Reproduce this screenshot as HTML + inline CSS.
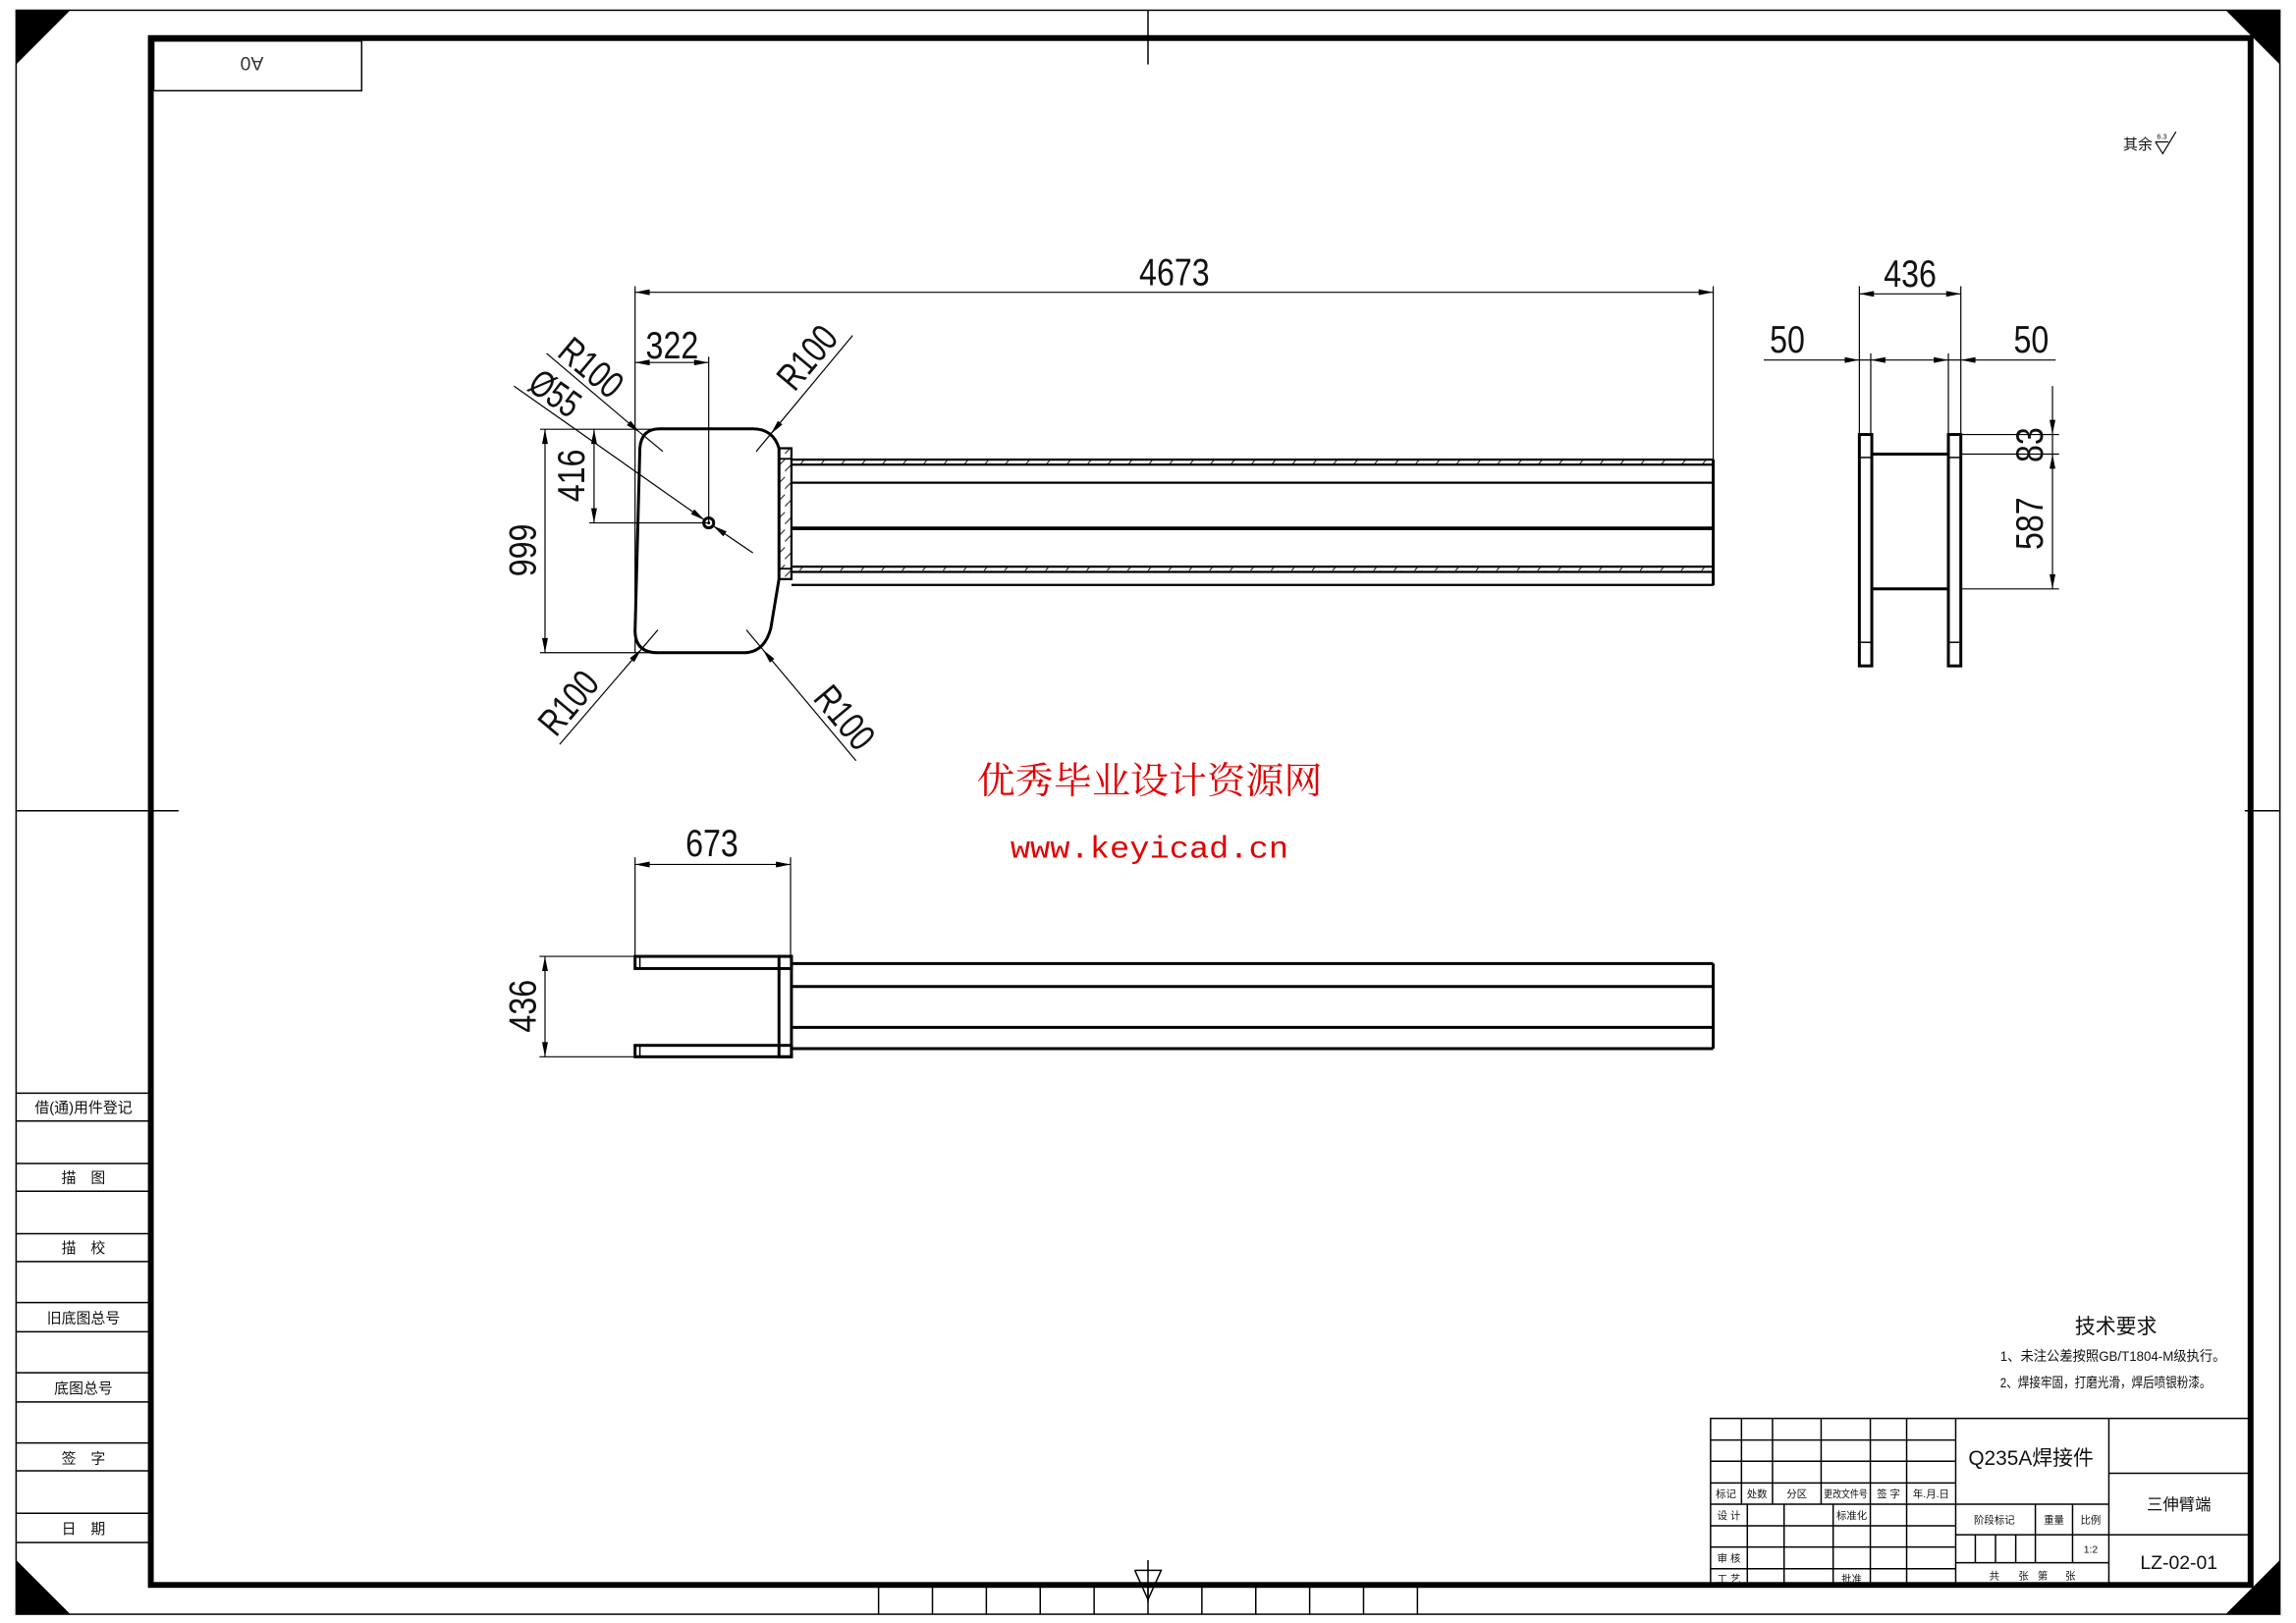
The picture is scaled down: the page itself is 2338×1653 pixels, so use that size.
<!DOCTYPE html>
<html><head><meta charset="utf-8"><style>html,body{margin:0;padding:0;background:#fff}svg{display:block}text{font-family:"Liberation Sans","Noto Sans CJK SC",sans-serif;fill:#111}.d{font-size:26px;fill:#3a3a3a}.s{font-size:7px}.m{font-size:10px}</style></head><body>
<svg width="2338" height="1653" viewBox="0 0 1568 1109" preserveAspectRatio="none" xmlns="http://www.w3.org/2000/svg">
<defs>
<marker id="a" viewBox="0 0 10 4" markerWidth="11" markerHeight="4" refX="10" refY="2" orient="auto-start-reverse" markerUnits="userSpaceOnUse"><path d="M0,0L10,2L0,4z" fill="#000"/></marker>
<pattern id="h" width="14" height="6" patternUnits="userSpaceOnUse"><line x1="0" y1="6" x2="5" y2="0" stroke="#000" stroke-width="0.6"/></pattern>
<pattern id="hv" width="8" height="12" patternUnits="userSpaceOnUse"><line x1="0" y1="10" x2="8" y2="2" stroke="#000" stroke-width="0.6"/></pattern>
</defs>
<rect width="1568" height="1109" fill="#fff"/>
<rect x="11" y="7" width="1546" height="1096" fill="none" stroke="#000" stroke-width="1"/>
<rect x="103" y="26" width="1434" height="1057" fill="none" stroke="#000" stroke-width="4"/>
<polygon points="11,7 48,7 11,44" fill="#000"/>
<polygon points="1520,7 1557,7 1557,44" fill="#000"/>
<polygon points="1557,1066 1557,1103 1520,1103" fill="#000"/>
<polygon points="11,1066 11,1103 48,1103" fill="#000"/>
<g stroke="#000" stroke-width="1">
<line x1="784" y1="7" x2="784" y2="44"/>
<line x1="11" y1="554" x2="122" y2="554"/>
<line x1="1533" y1="554" x2="1557" y2="554"/>
<line x1="784" y1="1066" x2="784" y2="1095"/>
<polyline points="775,1073 793,1073 784,1093 775,1073" fill="none"/>
</g>
<g stroke="#000" stroke-width="1">
<line x1="600" y1="1083" x2="600" y2="1103"/><line x1="636.8" y1="1083" x2="636.8" y2="1103"/><line x1="673.6" y1="1083" x2="673.6" y2="1103"/><line x1="710.4" y1="1083" x2="710.4" y2="1103"/><line x1="747.2" y1="1083" x2="747.2" y2="1103"/><line x1="784" y1="1083" x2="784" y2="1103"/><line x1="820.8" y1="1083" x2="820.8" y2="1103"/><line x1="857.6" y1="1083" x2="857.6" y2="1103"/><line x1="894.4" y1="1083" x2="894.4" y2="1103"/><line x1="931.2" y1="1083" x2="931.2" y2="1103"/><line x1="968" y1="1083" x2="968" y2="1103"/>
</g>
<rect x="105" y="28" width="142" height="34" fill="none" stroke="#000" stroke-width="1"/>
<text x="172" y="44" font-size="13" text-anchor="middle" transform="rotate(180 172 44)" dy="5" style="fill:#333">A0</text>
<g stroke="#000" stroke-width="1">
<line x1="11" y1="747" x2="103" y2="747"/><line x1="11" y1="766" x2="103" y2="766"/>
<line x1="11" y1="795" x2="103" y2="795"/><line x1="11" y1="814" x2="103" y2="814"/>
<line x1="11" y1="843" x2="103" y2="843"/><line x1="11" y1="862" x2="103" y2="862"/>
<line x1="11" y1="890" x2="103" y2="890"/><line x1="11" y1="910" x2="103" y2="910"/>
<line x1="11" y1="938" x2="103" y2="938"/><line x1="11" y1="958" x2="103" y2="958"/>
<line x1="11" y1="986" x2="103" y2="986"/><line x1="11" y1="1005" x2="103" y2="1005"/>
<line x1="11" y1="1034" x2="103" y2="1034"/><line x1="11" y1="1054" x2="103" y2="1054"/>
</g>
<g class="m" text-anchor="middle" font-size="10">
<text x="57" y="760">借(通)用件登记</text>
<text x="57" y="808">描　图</text>
<text x="57" y="856">描　校</text>
<text x="57" y="904">旧底图总号</text>
<text x="57" y="952">底图总号</text>
<text x="57" y="1000">签　字</text>
<text x="57" y="1048">日　期</text>
</g>
<text x="1450" y="102" font-size="10">其余</text>
<text x="1473" y="95" font-size="5">6.3</text>
<polyline points="1472,97 1481,97" stroke="#000" stroke-width="0.8" fill="none"/>
<polyline points="1472,97 1477,105 1486,90" stroke="#000" stroke-width="0.8" fill="none"/>
<g stroke="#000" stroke-width="0.8" fill="none">
<line x1="433.7" y1="195.6" x2="433.7" y2="446"/>
<line x1="1170" y1="195.6" x2="1170" y2="314"/>
<line x1="433.7" y1="199.7" x2="1170" y2="199.7" marker-start="url(#a)" marker-end="url(#a)"/>
<line x1="484" y1="243.7" x2="484" y2="357"/>
<line x1="433.7" y1="247.7" x2="484" y2="247.7" marker-start="url(#a)" marker-end="url(#a)"/>
<line x1="368.8" y1="293.3" x2="450" y2="293.3"/>
<line x1="402.4" y1="357.3" x2="484" y2="357.3"/>
<line x1="368.8" y1="446" x2="449" y2="446"/>
<line x1="405.7" y1="293.3" x2="405.7" y2="357.3" marker-start="url(#a)" marker-end="url(#a)"/>
<line x1="372.2" y1="293.3" x2="372.2" y2="446" marker-start="url(#a)" marker-end="url(#a)"/>
<line x1="351" y1="263.8" x2="481.2" y2="355.4" marker-end="url(#a)"/>
<line x1="514.2" y1="377.8" x2="486.8" y2="359.2" marker-end="url(#a)"/>
<line x1="373.3" y1="241.5" x2="437" y2="295.5" marker-end="url(#a)"/><line x1="437" y1="295.5" x2="452.7" y2="308.5"/>
<line x1="582.3" y1="229.2" x2="526.4" y2="296.5" marker-end="url(#a)"/><line x1="526.4" y1="296.5" x2="516.4" y2="308.5"/>
<line x1="382.2" y1="508.6" x2="438.1" y2="443.5" marker-end="url(#a)"/><line x1="438.1" y1="443.5" x2="449.3" y2="430.4"/>
<line x1="584.6" y1="519.8" x2="520.9" y2="443.8" marker-end="url(#a)"/><line x1="520.9" y1="443.8" x2="509.7" y2="430.4"/>
</g>
<g class="d" text-anchor="middle">
<text x="802" y="195" textLength="48" lengthAdjust="spacingAndGlyphs">4673</text>
<text x="459" y="245" textLength="36" lengthAdjust="spacingAndGlyphs">322</text>
<g transform="translate(399,325) rotate(-90)"><text x="0" y="0" textLength="36" lengthAdjust="spacingAndGlyphs">416</text></g>
<g transform="translate(366,376) rotate(-90)"><text x="0" y="0" textLength="36" lengthAdjust="spacingAndGlyphs">999</text></g>
<g transform="translate(374,276) rotate(35)"><text x="0" y="0" textLength="36" lengthAdjust="spacingAndGlyphs">Ø55</text></g>
<g transform="translate(398,258) rotate(40)"><text x="0" y="0" textLength="48" lengthAdjust="spacingAndGlyphs">R100</text></g>
<g transform="translate(558,250) rotate(-50)"><text x="0" y="0" textLength="48" lengthAdjust="spacingAndGlyphs">R100</text></g>
<g transform="translate(395,486) rotate(-50)"><text x="0" y="0" textLength="48" lengthAdjust="spacingAndGlyphs">R100</text></g>
<g transform="translate(570,496) rotate(50)"><text x="0" y="0" textLength="48" lengthAdjust="spacingAndGlyphs">R100</text></g>
</g>
<path d="M450.4,293 L514,293 Q528,293 532,306.3 L532,395.7 L526.4,429.3 Q522,446 508,446 L449.3,446 Q434,446 433.7,431.5 L437,306.2 Q438,293 450.4,293 Z" fill="none" stroke="#000" stroke-width="2"/>
<circle cx="484" cy="357.3" r="3.4" fill="none" stroke="#000" stroke-width="2"/>
<circle cx="484" cy="357.3" r="1" fill="#000"/>
<rect x="532" y="306.3" width="8.5" height="89.4" fill="url(#hv)" stroke="#000" stroke-width="1.5"/>
<line x1="532" y1="313.5" x2="540.5" y2="313.5" stroke="#000" stroke-width="1.2"/>
<line x1="532" y1="388.6" x2="540.5" y2="388.6" stroke="#000" stroke-width="1.2"/>
<rect x="540.5" y="314.1" width="629.5" height="3.4" fill="url(#h)"/>
<rect x="540.5" y="387.2" width="629.5" height="3.6" fill="url(#h)"/>
<g stroke="#000">
<line x1="540.5" y1="314.1" x2="1170" y2="314.1" stroke-width="1.5"/>
<line x1="540.5" y1="317.5" x2="1170" y2="317.5" stroke-width="1.5"/>
<line x1="540.5" y1="329.8" x2="1170" y2="329.8" stroke-width="1.5"/>
<line x1="540.5" y1="361" x2="1170" y2="361" stroke-width="2.5"/>
<line x1="540.5" y1="387.2" x2="1170" y2="387.2" stroke-width="1.5"/>
<line x1="540.5" y1="390.8" x2="1170" y2="390.8" stroke-width="1.5"/>
<line x1="540.5" y1="399.7" x2="1170" y2="399.7" stroke-width="1.5"/>
<line x1="1170" y1="314" x2="1170" y2="400" stroke-width="2"/>
</g>
<g stroke="#000" stroke-width="0.8" fill="none">
<line x1="1269.8" y1="195.6" x2="1269.8" y2="297"/>
<line x1="1339.1" y1="195.6" x2="1339.1" y2="297"/>
<line x1="1277.6" y1="241.5" x2="1277.6" y2="297"/>
<line x1="1330.6" y1="241.5" x2="1330.6" y2="297"/>
<line x1="1269.8" y1="200.8" x2="1339.1" y2="200.8" marker-start="url(#a)" marker-end="url(#a)"/>
<line x1="1204.5" y1="246" x2="1269.8" y2="246" marker-end="url(#a)"/>
<line x1="1269.8" y1="246" x2="1277.6" y2="246"/>
<line x1="1304" y1="246" x2="1277.6" y2="246" marker-end="url(#a)"/>
<line x1="1304" y1="246" x2="1330.6" y2="246" marker-end="url(#a)"/>
<line x1="1330.6" y1="246" x2="1339.1" y2="246"/>
<line x1="1403.9" y1="246" x2="1339.1" y2="246" marker-end="url(#a)"/>
<line x1="1339.1" y1="296.9" x2="1406.2" y2="296.9"/>
<line x1="1339.1" y1="310.3" x2="1406.2" y2="310.3"/>
<line x1="1339.1" y1="402.4" x2="1406.2" y2="402.4"/>
<line x1="1401.7" y1="263.8" x2="1401.7" y2="296.9" marker-end="url(#a)"/>
<line x1="1401.7" y1="296.9" x2="1401.7" y2="310.3"/>
<line x1="1401.7" y1="310.3" x2="1401.7" y2="402.4" marker-start="url(#a)" marker-end="url(#a)"/>
</g>
<g stroke="#000" stroke-width="2" fill="none">
<rect x="1269.8" y="296.9" width="8.5" height="158.1"/>
<rect x="1330.6" y="296.9" width="8.5" height="158.1"/>
<line x1="1278.3" y1="310.3" x2="1330.6" y2="310.3"/>
<line x1="1278.3" y1="402.4" x2="1330.6" y2="402.4"/>
</g>
<g stroke="#000" stroke-width="1">
<line x1="1269.8" y1="312.6" x2="1278.3" y2="312.6"/><line x1="1269.8" y1="438.9" x2="1278.3" y2="438.9"/>
<line x1="1330.6" y1="312.6" x2="1339.1" y2="312.6"/><line x1="1330.6" y1="438.9" x2="1339.1" y2="438.9"/>
</g>
<g class="d" text-anchor="middle">
<text x="1304.5" y="196" textLength="36" lengthAdjust="spacingAndGlyphs">436</text>
<text x="1220.6" y="241" textLength="24" lengthAdjust="spacingAndGlyphs">50</text>
<text x="1387.2" y="241" textLength="24" lengthAdjust="spacingAndGlyphs">50</text>
<g transform="translate(1395,304) rotate(-90)"><text x="0" y="0" textLength="24" lengthAdjust="spacingAndGlyphs">83</text></g>
<g transform="translate(1395,357.7) rotate(-90)"><text x="0" y="0" textLength="36" lengthAdjust="spacingAndGlyphs">587</text></g>
</g>
<text x="785" y="542" text-anchor="middle" font-size="25" textLength="236" lengthAdjust="spacingAndGlyphs" style="fill:#e00000;font-family:'Noto Serif CJK SC','Liberation Serif',serif">优秀毕业设计资源网</text>
<text x="785" y="586" text-anchor="middle" font-size="21" textLength="190" lengthAdjust="spacingAndGlyphs" style="fill:#e00000;font-family:'Liberation Mono',monospace">www.keyicad.cn</text>
<g stroke="#000" stroke-width="0.8" fill="none">
<line x1="433.7" y1="585.8" x2="433.7" y2="653.5"/>
<line x1="539.9" y1="585.8" x2="539.9" y2="653.5"/>
<line x1="433.7" y1="590.7" x2="539.9" y2="590.7" marker-start="url(#a)" marker-end="url(#a)"/>
<line x1="368.4" y1="653.5" x2="433.7" y2="653.5"/>
<line x1="368.4" y1="722.1" x2="433.7" y2="722.1"/>
<line x1="372.2" y1="653.5" x2="372.2" y2="722.1" marker-start="url(#a)" marker-end="url(#a)"/>
</g>
<g stroke="#000" stroke-width="2" fill="none">
<rect x="433.7" y="653.5" width="106.8" height="8.3"/>
<rect x="433.7" y="714.3" width="106.8" height="7.8"/>
<rect x="532" y="653.5" width="8.5" height="68.6"/>
<line x1="540.5" y1="658.4" x2="1170" y2="658.4"/>
<line x1="540.5" y1="674.1" x2="1170" y2="674.1"/>
<line x1="540.5" y1="702" x2="1170" y2="702"/>
<line x1="540.5" y1="716.5" x2="1170" y2="716.5"/>
<line x1="1170" y1="658.4" x2="1170" y2="716.5"/>
</g>
<g stroke="#000" stroke-width="1"><line x1="437" y1="653.5" x2="437" y2="661.8"/><line x1="437" y1="714.3" x2="437" y2="722.1"/></g>
<g class="d" text-anchor="middle">
<text x="486.2" y="585" textLength="36" lengthAdjust="spacingAndGlyphs">673</text>
<g transform="translate(366,687.5) rotate(-90)"><text x="0" y="0" textLength="36" lengthAdjust="spacingAndGlyphs">436</text></g>
</g>
<text x="1445" y="911" text-anchor="middle" font-size="14">技术要求</text>
<text x="1366" y="930" font-size="9.5" textLength="154" lengthAdjust="spacingAndGlyphs">1、未注公差按照GB/T1804-M级执行。</text>
<text x="1366" y="948" font-size="9.5" textLength="144" lengthAdjust="spacingAndGlyphs">2、焊接牢固，打磨光滑，焊后喷银粉漆。</text>
<g stroke="#000" stroke-width="1" fill="none">
<rect x="1168.2" y="969.2" width="368.8" height="114"/>
<line x1="1168.2" y1="984" x2="1335.6" y2="984"/>
<line x1="1168.2" y1="998.5" x2="1335.6" y2="998.5"/>
<line x1="1168.2" y1="1013.3" x2="1335.6" y2="1013.3"/>
<line x1="1168.2" y1="1027.8" x2="1440.2" y2="1027.8"/>
<line x1="1168.2" y1="1042.6" x2="1335.6" y2="1042.6"/>
<line x1="1168.2" y1="1057.1" x2="1335.6" y2="1057.1"/>
<line x1="1168.2" y1="1071.9" x2="1335.6" y2="1071.9"/>
<line x1="1189.3" y1="969.2" x2="1189.3" y2="1027.8"/>
<line x1="1210.5" y1="969.2" x2="1210.5" y2="1027.8"/>
<line x1="1243.7" y1="969.2" x2="1243.7" y2="1027.8"/>
<line x1="1277.3" y1="969.2" x2="1277.3" y2="1083"/>
<line x1="1302.1" y1="969.2" x2="1302.1" y2="1083"/>
<line x1="1335.6" y1="969.2" x2="1335.6" y2="1083"/>
<line x1="1193.3" y1="1027.8" x2="1193.3" y2="1083"/>
<line x1="1218.4" y1="1027.8" x2="1218.4" y2="1083"/>
<line x1="1251.9" y1="1027.8" x2="1251.9" y2="1083"/>
<line x1="1440.2" y1="969.2" x2="1440.2" y2="1083"/>
<line x1="1335.6" y1="1048.7" x2="1537" y2="1048.7"/>
<line x1="1335.6" y1="1067.8" x2="1440.2" y2="1067.8"/>
<line x1="1440.2" y1="1006.7" x2="1537" y2="1006.7"/>
<line x1="1390" y1="1027.8" x2="1390" y2="1067.8"/>
<line x1="1415.4" y1="1027.8" x2="1415.4" y2="1067.8"/>
<line x1="1349" y1="1048.7" x2="1349" y2="1067.8"/>
<line x1="1362.8" y1="1048.7" x2="1362.8" y2="1067.8"/>
<line x1="1376.6" y1="1048.7" x2="1376.6" y2="1067.8"/>
</g>
<g class="s" text-anchor="middle" font-size="7">
<text x="1178.7" y="1023">标记</text><text x="1199.9" y="1023">处数</text><text x="1227.1" y="1023">分区</text><text x="1260.5" y="1023" textLength="30" lengthAdjust="spacingAndGlyphs">更改文件号</text><text x="1289.7" y="1023">签 字</text><text x="1318.8" y="1023">年.月.日</text>
<text x="1180.7" y="1038">设 计</text><text x="1264.6" y="1038">标准化</text>
<text x="1180.7" y="1067">审 核</text><text x="1180.7" y="1081">工 艺</text><text x="1264.6" y="1081">批准</text>
<text x="1362" y="1041">阶段标记</text><text x="1402.7" y="1041">重量</text><text x="1427.8" y="1041">比例</text>
<text x="1427.8" y="1061">1:2</text>
<text x="1362" y="1079">共</text><text x="1382" y="1079">张</text><text x="1395" y="1079">第</text><text x="1414" y="1079">张</text>
</g>
<text x="1387" y="1001" text-anchor="middle" font-size="14">Q235A焊接件</text>
<text x="1488" y="1032" text-anchor="middle" font-size="11">三伸臂端</text>
<text x="1488" y="1072" text-anchor="middle" font-size="13">LZ-02-01</text>
</svg>
</body></html>
